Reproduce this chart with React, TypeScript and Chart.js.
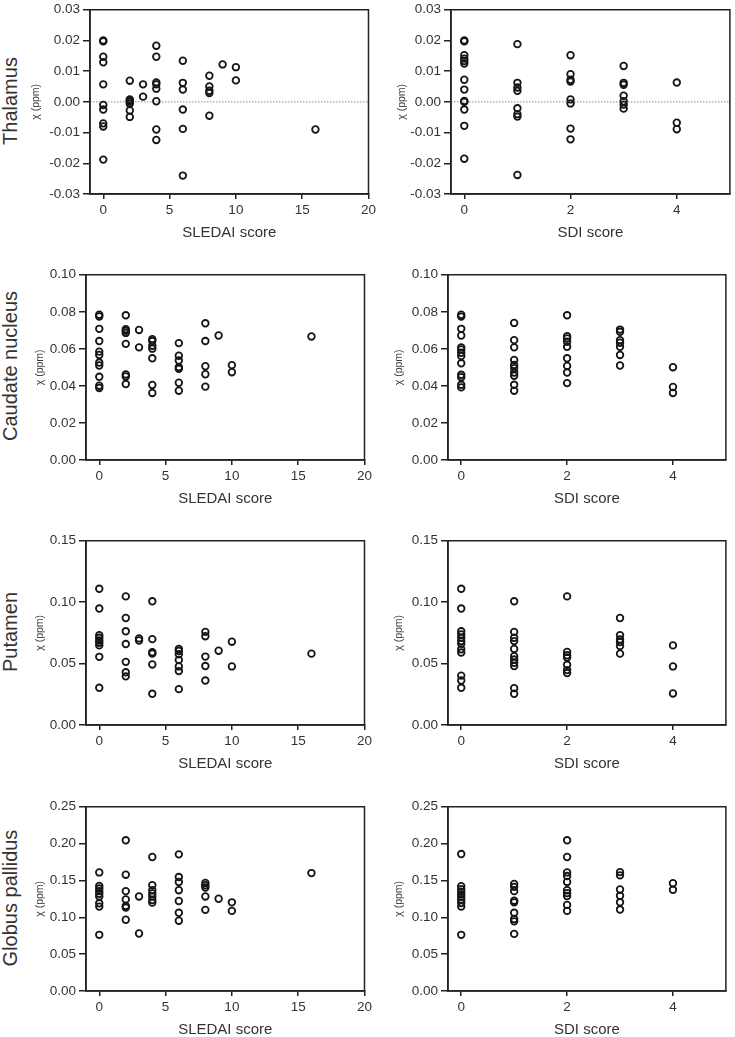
import React, { useEffect, useRef } from "react";
import { Chart, registerables } from "chart.js";

Chart.register(...registerables);

const FONT = "'Liberation Sans', Arial, Helvetica, sans-serif";
const INK = "#222222";

// ---- tick labels ----
const sledaiTicks = [0, 5, 10, 15, 20];
const sdiTicks = [0, 2, 4];
const thalamusTicks = [-0.03, -0.02, -0.01, 0, 0.01, 0.02, 0.03];
const caudateTicks = [0, 0.02, 0.04, 0.06, 0.08, 0.1];
const putamenTicks = [0, 0.05, 0.1, 0.15];
const pallidusTicks = [0, 0.05, 0.1, 0.15, 0.2, 0.25];

// ---- categories ----
const regions = ["Thalamus", "Caudate nucleus", "Putamen", "Globus pallidus"];
const sledaiScores = [0, 2, 3, 4, 6, 8, 9, 10, 16];
const sdiScores = [0, 1, 2, 3, 4];

// ---- χ (ppm) values grouped by score ----
const thalamusSledai = [
  [0.02, 0.0197, 0.0147, 0.0129, 0.0057, -0.001, -0.0025, -0.007, -0.008, -0.0188],
  [0.0069, 0.0008, 0.0004, 0.0, -0.0006, -0.0028, -0.0049],
  [0.0057, 0.0017],
  [0.0183, 0.0147, 0.0063, 0.0057, 0.0043, 0.0002, -0.009, -0.0124],
  [0.0134, 0.0062, 0.004, -0.0025, -0.0088, -0.024],
  [0.0085, 0.005, 0.0036, 0.0029, -0.0045],
  [0.0122],
  [0.0113, 0.007],
  [-0.009],
];
const thalamusSdi = [
  [0.02, 0.0197, 0.0152, 0.0141, 0.0133, 0.0125, 0.0072, 0.004, 0.0003, 0.0, -0.0025, -0.0078, -0.0185],
  [0.0188, 0.0062, 0.0047, 0.0036, -0.0021, -0.004, -0.0048, -0.0238],
  [0.0152, 0.009, 0.0072, 0.0066, 0.0008, -0.0005, -0.0087, -0.0122],
  [0.0117, 0.0062, 0.0056, 0.002, 0.0002, -0.0009, -0.0022],
  [0.0063, -0.0068, -0.0089],
];
const caudateSledai = [
  [0.0784, 0.0775, 0.0708, 0.0642, 0.0585, 0.0567, 0.0526, 0.051, 0.0449, 0.0401, 0.0389],
  [0.0781, 0.0706, 0.0697, 0.0686, 0.0627, 0.0462, 0.0451, 0.041],
  [0.0702, 0.0608],
  [0.0652, 0.0642, 0.0617, 0.0601, 0.0549, 0.0405, 0.0362],
  [0.0631, 0.0563, 0.0537, 0.0501, 0.0492, 0.0417, 0.0374],
  [0.0738, 0.0642, 0.0506, 0.0463, 0.0396],
  [0.0672],
  [0.0512, 0.0474],
  [0.0667],
];
const caudateSdi = [
  [0.0784, 0.0774, 0.0708, 0.0672, 0.0608, 0.0597, 0.0579, 0.0561, 0.0522, 0.046, 0.0447, 0.0406, 0.0392],
  [0.074, 0.0647, 0.0608, 0.054, 0.0513, 0.0496, 0.0472, 0.0455, 0.0406, 0.0374],
  [0.0781, 0.0668, 0.0656, 0.0638, 0.0611, 0.0549, 0.0508, 0.0472, 0.0415],
  [0.0704, 0.0692, 0.0647, 0.0633, 0.0611, 0.0567, 0.051],
  [0.0501, 0.0394, 0.0362],
];
const putamenSledai = [
  [0.1109, 0.0948, 0.0731, 0.071, 0.0688, 0.067, 0.0648, 0.0555, 0.0303],
  [0.1047, 0.0871, 0.0763, 0.0659, 0.0514, 0.0429, 0.0396],
  [0.0705, 0.0688],
  [0.1007, 0.0699, 0.0592, 0.0581, 0.0493, 0.0254],
  [0.0619, 0.0603, 0.0576, 0.053, 0.0477, 0.0439, 0.0292],
  [0.0758, 0.0723, 0.0557, 0.048, 0.0362],
  [0.0605],
  [0.0678, 0.0477],
  [0.0581],
];
const putamenSdi = [
  [0.1109, 0.0948, 0.0763, 0.0737, 0.071, 0.0683, 0.0662, 0.0616, 0.059, 0.0402, 0.0362, 0.0303],
  [0.1007, 0.0758, 0.071, 0.0683, 0.0619, 0.056, 0.0533, 0.0506, 0.048, 0.03, 0.0254],
  [0.1047, 0.0595, 0.0568, 0.0549, 0.049, 0.0447, 0.0423],
  [0.0871, 0.0731, 0.0696, 0.0675, 0.0643, 0.0581],
  [0.0648, 0.0477, 0.0257],
];
const pallidusSledai = [
  [0.1609, 0.1426, 0.139, 0.1355, 0.1319, 0.1283, 0.119, 0.1145, 0.0762],
  [0.2045, 0.1578, 0.1355, 0.1243, 0.1154, 0.1132, 0.0967],
  [0.1283, 0.078],
  [0.1818, 0.1435, 0.1368, 0.1324, 0.1283, 0.1234, 0.1199],
  [0.1854, 0.1546, 0.148, 0.1368, 0.1221, 0.1061, 0.0954],
  [0.1466, 0.1435, 0.1404, 0.1283, 0.1101],
  [0.1252],
  [0.1203, 0.1087],
  [0.16],
];
const pallidusSdi = [
  [0.1858, 0.1422, 0.1381, 0.1346, 0.131, 0.1275, 0.1239, 0.1194, 0.1145, 0.0762],
  [0.1453, 0.1413, 0.1355, 0.1225, 0.1203, 0.1061, 0.0976, 0.0945, 0.0775],
  [0.2045, 0.1818, 0.1609, 0.156, 0.148, 0.1368, 0.1328, 0.1288, 0.1168, 0.1087],
  [0.1613, 0.1569, 0.1377, 0.1292, 0.1203, 0.1105],
  [0.1462, 0.1373],
];

const framePlugin = {
  id: "frame",
  beforeDatasetsDraw(chart: any, _args: any, opts: any) {
    if (!opts || !opts.zero) return;
    const { ctx, chartArea } = chart;
    const y = chart.scales.y.getPixelForValue(0);
    ctx.save();
    ctx.strokeStyle = "#8c8c8c";
    ctx.lineWidth = 1;
    ctx.setLineDash([1.5, 1.5]);
    ctx.beginPath();
    ctx.moveTo(chartArea.left, y);
    ctx.lineTo(chartArea.right, y);
    ctx.stroke();
    ctx.restore();
  },
  afterDatasetsDraw(chart: any) {
    const { ctx, chartArea: a } = chart;
    ctx.save();
    ctx.strokeStyle = INK;
    ctx.lineWidth = 1.5;
    ctx.strokeRect(a.left, a.top, a.right - a.left, a.bottom - a.top);
    ctx.restore();
  },
};

const PAD_TOP = 7;
const X_AXIS_H = 48;

type PanelProps = {
  areaLeft: number;
  areaTop: number;
  areaW: number;
  areaH: number;
  titleOff: number;
  padRight: number;
  scores: number[];
  values: number[][];
  xTicks: number[];
  xMin: number;
  xMax: number;
  xTitle: string;
  yTicks: number[];
  zero: boolean;
};

function Panel(p: PanelProps) {
  const ref = useRef<HTMLCanvasElement | null>(null);
  const yW = Math.round(p.titleOff + 6);
  const cw = yW + p.areaW + p.padRight;
  const ch = PAD_TOP + p.areaH + X_AXIS_H;

  useEffect(() => {
    const canvas = ref.current;
    if (!canvas) return;
    const data = p.scores.flatMap((s, i) => p.values[i].map((v) => ({ x: s, y: v })));
    const yMin = p.yTicks[0];
    const yMax = p.yTicks[p.yTicks.length - 1];
    const tickFont = { family: FONT, size: 13.5, lineHeight: 1 };
    const chart = new Chart(canvas, {
      type: "scatter",
      data: {
        datasets: [
          {
            data,
            pointRadius: 3.3,
            pointHoverRadius: 3.3,
            pointBorderWidth: 1.8,
            pointBackgroundColor: "rgba(0,0,0,0)",
            pointBorderColor: "#151515",
            borderColor: "#151515",
            backgroundColor: "rgba(0,0,0,0)",
          },
        ],
      },
      options: {
        responsive: false,
        animation: false,
        devicePixelRatio: 1,
        events: [],
        layout: { padding: { left: 0, top: PAD_TOP, right: p.padRight, bottom: 0 } },
        plugins: {
          legend: { display: false },
          tooltip: { enabled: false },
          // @ts-ignore
          frame: { zero: p.zero },
        },
        scales: {
          x: {
            type: "linear",
            position: "bottom",
            min: p.xMin,
            max: p.xMax,
            afterBuildTicks: (s: any) => {
              s.ticks = p.xTicks.map((v) => ({ value: v }));
            },
            afterFit: (s: any) => {
              s.height = X_AXIS_H;
            },
            grid: {
              display: true,
              drawOnChartArea: false,
              drawTicks: true,
              tickLength: 5,
              color: INK,
              lineWidth: 1.5,
            },
            border: { display: true, color: INK, width: 1.5 },
            ticks: {
              padding: 5,
              color: "#333",
              font: tickFont,
              maxRotation: 0,
              autoSkip: false,
              callback: (v: any) => String(v),
            },
            title: {
              display: true,
              text: p.xTitle,
              color: "#333",
              font: { family: FONT, size: 15, lineHeight: 1.2 },
              padding: 0,
            },
          },
          y: {
            type: "linear",
            position: "left",
            min: yMin,
            max: yMax,
            afterBuildTicks: (s: any) => {
              s.ticks = p.yTicks.map((v) => ({ value: v }));
            },
            afterFit: (s: any) => {
              s.width = yW;
            },
            grid: {
              display: true,
              drawOnChartArea: false,
              drawTicks: true,
              tickLength: 7,
              color: INK,
              lineWidth: 1.5,
            },
            border: { display: true, color: INK, width: 1.5 },
            ticks: {
              padding: 3,
              color: "#333",
              font: tickFont,
              autoSkip: false,
              callback: (v: any) => Number(v).toFixed(2),
            },
            title: {
              display: true,
              text: "χ (ppm)",
              color: "#3a3a3a",
              font: { family: FONT, size: 10.5, lineHeight: 1.2 },
              padding: 0,
            },
          },
        },
      } as any,
      plugins: [framePlugin as any],
    });
    return () => chart.destroy();
  }, []);

  return (
    <canvas
      ref={ref}
      width={cw}
      height={ch}
      style={{
        position: "absolute",
        left: p.areaLeft - yW,
        top: p.areaTop - PAD_TOP,
        width: cw,
        height: ch,
      }}
    />
  );
}

const rows = [
  { label: regions[0], top: 7, h: 187, yTicks: thalamusTicks, zero: true, sledai: thalamusSledai, sdi: thalamusSdi, lLeft: 90, lOff: 54, rLeft: 451, rW: 282 },
  { label: regions[1], top: 272, h: 188, yTicks: caudateTicks, zero: false, sledai: caudateSledai, sdi: caudateSdi, lLeft: 86, lOff: 46, rLeft: 448, rW: 281 },
  { label: regions[2], top: 538, h: 187, yTicks: putamenTicks, zero: false, sledai: putamenSledai, sdi: putamenSdi, lLeft: 86, lOff: 46, rLeft: 448, rW: 281 },
  { label: regions[3], top: 804, h: 187, yTicks: pallidusTicks, zero: false, sledai: pallidusSledai, sdi: pallidusSdi, lLeft: 86, lOff: 46, rLeft: 448, rW: 281 },
];

export default function App() {
  return (
    <div
      style={{
        position: "absolute",
        left: 0,
        top: 0,
        width: 735,
        height: 1037,
        overflow: "hidden",
        background: "#ffffff",
      }}
    >
      {rows.map((r) => (
        <React.Fragment key={r.label}>
          <div
            style={{
              position: "absolute",
              left: 10,
              top: r.top + r.h / 2,
              transform: "translate(-50%, -50%) rotate(-90deg)",
              fontFamily: FONT,
              fontSize: 20,
              lineHeight: 1,
              color: "#333",
              whiteSpace: "nowrap",
            }}
          >
            {r.label}
          </div>
          <Panel
            areaLeft={r.lLeft}
            areaTop={r.top}
            areaW={281}
            areaH={r.h}
            titleOff={r.lOff}
            padRight={10}
            scores={sledaiScores}
            values={r.sledai}
            xTicks={sledaiTicks}
            xMin={-1}
            xMax={20}
            xTitle="SLEDAI score"
            yTicks={r.yTicks}
            zero={r.zero}
          />
          <Panel
            areaLeft={r.rLeft}
            areaTop={r.top}
            areaW={r.rW}
            areaH={r.h}
            titleOff={49}
            padRight={2}
            scores={sdiScores}
            values={r.sdi}
            xTicks={sdiTicks}
            xMin={-0.25}
            xMax={5}
            xTitle="SDI score"
            yTicks={r.yTicks}
            zero={r.zero}
          />
        </React.Fragment>
      ))}
    </div>
  );
}
